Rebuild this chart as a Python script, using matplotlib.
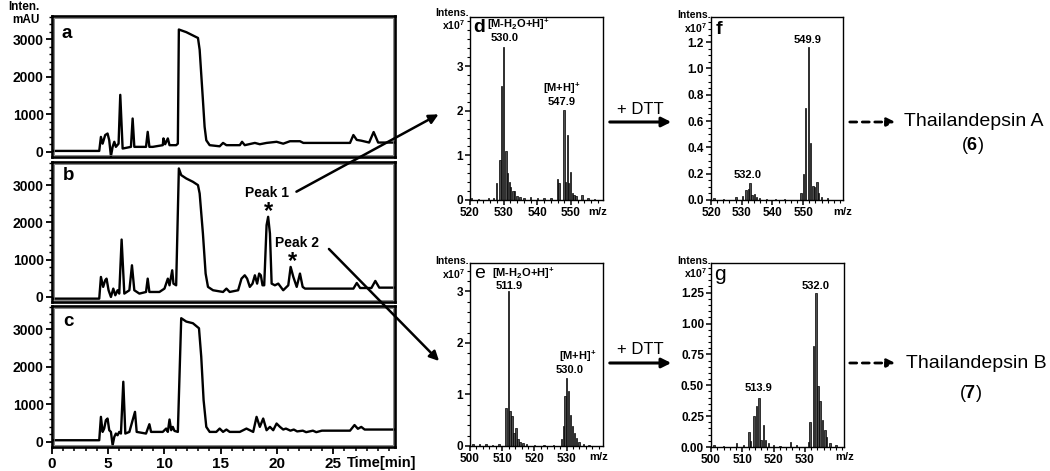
import matplotlib
matplotlib.use('Agg')
import matplotlib.pyplot as plt
from matplotlib.ticker import MultipleLocator, FormatStrFormatter
from matplotlib.patches import FancyArrowPatch, Rectangle

plt.rcParams['font.family'] = ['Liberation Sans', 'DejaVu Sans']
plt.rcParams['font.weight'] = 'bold'
plt.rcParams['mathtext.fontset'] = 'custom'
plt.rcParams['mathtext.rm'] = 'Liberation Sans'
plt.rcParams['mathtext.bf'] = 'Liberation Sans:bold'
plt.rcParams['mathtext.default'] = 'bf'

W, H = 1050, 471

# ---------------- HPLC chromatograms (time in min, intensity in mAU) ----------------
time_a = [0, 4.2, 4.35, 4.5, 4.73, 4.94, 5.09, 5.24, 5.39, 5.54, 5.68, 5.92, 6.07, 6.28, 7.02, 7.17,
          7.32, 8.36, 8.51, 8.66, 8.96, 9.85, 9.91, 10.06, 10.3, 10.45, 11.04, 11.19, 11.28, 11.94,
          12.98, 13.13, 13.42, 13.57, 13.72, 14.02, 14.91, 15.21, 15.51, 16.7, 16.9, 17.14, 18.04,
          18.48, 19.08, 19.97, 20.56, 21.16, 22.05, 22.35, 26.5, 26.8, 27.1, 27.5, 28.2, 28.6, 29.0, 30.5]
inten_a = [27, 27, 400, 220, 450, 490, 310, -115, 135, 270, 135, 220, 1520, 90, 135, 890,
           135, 135, 535, 135, 135, 180, 360, 205, 360, 180, 180, 220, 3260, 3190,
           3035, 2720, 1380, 670, 310, 180, 150, 240, 180, 180, 270, 180, 240,
           205, 240, 270, 220, 285, 285, 240, 240, 450, 320, 300, 250, 530, 250, 250]

time_b = [0, 4.2, 4.35, 4.55, 4.73, 4.85, 5.03, 5.24, 5.45, 5.63, 5.83, 5.98, 6.19, 6.43, 6.88, 7.11,
          7.32, 7.77, 8.36, 8.51, 8.66, 9.55, 10.0, 10.3, 10.45, 10.69, 10.8, 11.04, 11.28, 11.49,
          11.94, 12.53, 12.98, 13.13, 13.42, 13.66, 13.87, 14.32, 15.21, 15.51, 15.8, 16.55, 16.85,
          17.14, 17.35, 17.59, 17.83, 18.04, 18.24, 18.42, 18.57, 18.72, 18.87, 19.08, 19.22, 19.38,
          19.53, 19.82, 20.12, 20.56, 21.01, 21.22, 21.46, 21.76, 22.05, 22.29, 22.5, 26.8, 27.1,
          27.4, 28.4, 28.75, 29.1, 30.5]
inten_b = [-45, -45, 537, 270, 448, 492, 180, 0, 224, 45, 180, 90, 1540, 90, 180, 850,
           180, 90, 134, 492, 134, 134, 224, 492, 313, 716, 358, 313, 3447, 3268,
           3178, 3089, 3000, 2775, 1700, 627, 270, 180, 134, 224, 134, 180, 492,
           582, 492, 270, 358, 582, 358, 627, 582, 313, 313, 1925, 2150, 1700,
           358, 313, 358, 180, 313, 806, 537, 270, 627, 270, 224, 224, 375,
           240, 240, 430, 250, 250]

time_c = [0, 4.2, 4.35, 4.5, 4.64, 4.79, 4.94, 5.09, 5.24, 5.39, 5.54, 5.68, 5.83, 5.98, 6.13, 6.34,
          6.52, 6.88, 7.17, 7.38, 7.53, 8.36, 8.66, 8.81, 9.85, 10.15, 10.3, 10.45, 10.6, 10.74,
          10.89, 11.19, 11.49, 11.94, 12.53, 13.07, 13.27, 13.48, 13.72, 14.02, 14.61, 14.91, 15.21,
          15.51, 15.8, 16.7, 17.29, 17.89, 18.19, 18.48, 18.78, 19.08, 19.38, 19.67, 19.97, 20.27,
          20.56, 20.8, 21.2, 21.5, 21.8, 22.3, 22.6, 23.2, 23.5, 24.0, 26.5, 26.9, 27.2, 27.5, 27.8, 30.5]
inten_c = [45, 45, 668, 267, 356, 579, 623, 312, 267, -89, 134, 223, 178, 267, 223, 1603,
           223, 267, 579, 801, 267, 223, 472, 267, 267, 356, 267, 597, 312, 401,
           294, 267, 3295, 3205, 3161, 3027, 2271, 1113, 401, 267, 267, 356, 267,
           330, 267, 267, 356, 267, 668, 401, 623, 312, 401, 312, 490, 401,
           330, 356, 300, 330, 280, 300, 260, 300, 260, 300, 300, 450, 350, 400, 330, 330]

chrom_xticks = [0, 5, 10, 15, 20, 25]
chrom_yticks = [0, 1000, 2000, 3000]

# ---------------- MS spectra (m/z, intensity x10^7) ----------------
mz_d = [520.5, 522.5, 525.5, 527.0, 527.9, 528.9, 529.3, 530.0, 530.7, 531.2, 531.7, 532.1, 532.7,
        533.2, 533.9, 534.9, 536.0, 538.0, 540.0, 542.0, 544.0, 546.0, 546.5, 547.9, 548.4, 548.9,
        549.3, 549.9, 550.4, 550.9, 551.5, 553.3, 555.0, 557.0]
int_d = [0.04, 0.03, 0.04, 0.05, 0.37, 0.9, 2.55, 3.43, 1.1, 0.6, 0.4, 0.3, 0.2,
         0.2, 0.1, 0.07, 0.05, 0.07, 0.04, 0.05, 0.05, 0.48, 0.37, 2.02, 0.4, 1.45,
         0.37, 0.63, 0.15, 0.12, 0.08, 0.11, 0.04, 0.03]

mz_f = [521.0, 524.0, 528.2, 530.3, 531.4, 532.2, 532.7, 533.4, 534.1, 534.9, 535.8, 538.0, 541.0,
        544.0, 549.3, 550.1, 550.8, 551.8, 552.5, 553.2, 553.7, 554.5, 555.1, 555.9, 558.0]
int_f = [0.015, 0.01, 0.02, 0.03, 0.076, 0.08, 0.13, 0.04, 0.045, 0.02, 0.015, 0.01, 0.01,
         0.01, 0.05, 0.2, 0.7, 1.16, 0.43, 0.11, 0.1, 0.14, 0.05, 0.02, 0.015]

mz_e = [501.0, 503.0, 505.0, 507.0, 509.0, 511.2, 511.9, 512.4, 513.0, 513.6, 514.3, 514.9, 515.5,
        516.5, 517.6, 520.0, 523.0, 526.0, 528.4, 529.0, 529.5, 530.0, 530.6, 531.2, 531.8, 532.5,
        533.1, 533.9, 535.2, 537.0]
int_e = [0.04, 0.03, 0.03, 0.02, 0.03, 0.74, 3.0, 0.67, 0.58, 0.25, 0.35, 0.13, 0.08,
         0.05, 0.03, 0.02, 0.02, 0.02, 0.13, 0.38, 0.97, 1.32, 1.07, 0.6, 0.38, 0.25,
         0.15, 0.08, 0.04, 0.02]

mz_g = [501.0, 504.0, 508.2, 510.3, 512.1, 512.7, 513.7, 514.6, 515.3, 516.0, 516.7, 517.4, 518.3,
        519.9, 522.0, 525.4, 527.3, 531.1, 531.6, 532.7, 533.5, 534.2, 534.8, 535.6, 536.4, 536.9,
        538.0, 540.0]
int_g = [0.02, 0.01, 0.03, 0.02, 0.12, 0.05, 0.25, 0.33, 0.4, 0.06, 0.18, 0.06, 0.03,
         0.02, 0.01, 0.04, 0.02, 0.04, 0.2, 0.82, 1.25, 0.49, 0.37, 0.22, 0.14, 0.08,
         0.03, 0.02]

xticks_df = [520, 530, 540, 550]
xticks_eg = [500, 510, 520, 530]
yticks_de = [0, 1, 2, 3]
yticks_f = [0.0, 0.2, 0.4, 0.6, 0.8, 1.0, 1.2]
yticks_g = [0.0, 0.25, 0.5, 0.75, 1.0, 1.25]

fig = plt.figure(figsize=(W / 100, H / 100), dpi=100)


def add_ax(l, t, r, b):
    return fig.add_axes([l / W, 1 - b / H, (r - l) / W, (b - t) / H])


# ---------- chromatograms ----------
XMAX = 30.5
chrom_boxes = [(52, 16, 395, 157), (52, 162, 395, 302), (52, 306, 395, 447)]
chrom_data = [(time_a, inten_a), (time_b, inten_b), (time_c, inten_c)]
for i, (box, (t, v)) in enumerate(zip(chrom_boxes, chrom_data)):
    ax = add_ax(*box)
    ax.plot(t, v, color='black', lw=1.7, solid_joinstyle='round')
    ax.set_xlim(0, XMAX)
    ax.set_ylim(-135, 3620)
    ax.set_yticks(chrom_yticks)
    ax.yaxis.set_minor_locator(MultipleLocator(200))
    ax.tick_params(axis='y', which='major', direction='out', length=4, width=1.3, labelsize=10, pad=2)
    ax.tick_params(axis='y', which='minor', direction='out', length=2.5, width=1)
    for sp in ax.spines.values():
        sp.set_linewidth(1.9)
    ax.add_patch(Rectangle((0.006, 0.012), 0.988, 0.976, transform=ax.transAxes, fill=False,
                           lw=0.6, edgecolor='0.45', zorder=3))
    if i < 2:
        ax.tick_params(axis='x', which='both', bottom=False, labelbottom=False)
    else:
        ax.set_xticks(chrom_xticks)
        ax.xaxis.set_minor_locator(MultipleLocator(1))
        ax.tick_params(axis='x', which='major', direction='out', length=5, width=1.3, labelsize=11, pad=2)
        ax.tick_params(axis='x', which='minor', direction='out', length=3, width=1.1)


# ---------- mass spectra ----------
def spectrum(box, mz, inten, xlim, ylim, xticks, yticks, yminor, yfmt):
    ax = add_ax(*box)
    ax.bar(mz, inten, width=0.45, color='0.3', edgecolor='black', linewidth=0.5)
    ax.set_xlim(*xlim)
    ax.set_ylim(*ylim)
    ax.set_xticks(xticks)
    ax.set_yticks(yticks)
    ax.xaxis.set_minor_locator(MultipleLocator(2))
    ax.yaxis.set_minor_locator(MultipleLocator(yminor))
    ax.yaxis.set_major_formatter(FormatStrFormatter(yfmt))
    ax.tick_params(which='major', direction='out', length=3.5, width=1.1, labelsize=8.5, pad=1.5)
    ax.tick_params(which='minor', direction='out', length=2, width=0.8)
    for sp in ax.spines.values():
        sp.set_linewidth(1.0)
    return ax


spectrum((470, 17, 603, 200), mz_d, int_d, (520, 559.5), (0, 4.1), xticks_df, yticks_de, 0.2, '%d')
spectrum((711, 17, 843, 200), mz_f, int_f, (520, 563), (0, 1.39), xticks_df, yticks_f, 0.05, '%.1f')
spectrum((470, 263, 603, 446), mz_e, int_e, (500, 541.3), (0, 3.55), xticks_eg, yticks_de, 0.2, '%d')
spectrum((711, 263, 844, 447), mz_g, int_g, (500, 542.5), (0, 1.49), xticks_eg, yticks_g, 0.05, '%.2f')

# ---------- overlay for labels and arrows (pixel coordinates) ----------
ov = fig.add_axes([0, 0, 1, 1], zorder=10)
ov.set_xlim(0, W)
ov.set_ylim(H, 0)
ov.axis('off')
ov.patch.set_alpha(0)


def txt(x, y, s, size, ha='center', weight='bold', va='center'):
    ov.text(x, y, s, fontsize=size, ha=ha, va=va, fontweight=weight)


# chromatogram labels
txt(24, 7, 'Inten.', 8.5)
txt(26, 20, 'mAU', 8.5)
txt(67, 33, 'a', 13.5)
txt(69, 176, 'b', 13.5)
txt(68, 321, 'c', 13.5)
txt(347, 463, 'Time[min]', 10.5, ha='left')
txt(267, 193, 'Peak 1', 10)
txt(268, 212, '*', 17)
txt(297, 243, 'Peak 2', 10)
txt(292, 262, '*', 17)

# spectra labels
for (xr, y1, y2) in [(469, 13, 25), (711, 15, 28), (469, 261, 274), (711, 261, 273)]:
    txt(xr, y1, 'Intens.', 7.5, ha='right')
    txt(xr - 4, y2, r'x10$^{\mathbf{7}}$', 7.5, ha='right')

txt(479, 28, 'd', 14)
txt(719, 29, 'f', 14)
txt(480, 273, 'e', 14, weight='normal')
txt(720, 275, 'g', 15, weight='normal')

txt(518, 24, r'[M-H$_{\mathbf{2}}$O+H]$^{\mathbf{+}}$', 8)
txt(505, 38, '530.0', 8)
txt(562, 88, r'[M+H]$^{\mathbf{+}}$', 8)
txt(562, 102, '547.9', 8)
txt(808, 40, '549.9', 8)
txt(748, 175, '532.0', 8)

txt(523, 273, r'[M-H$_{\mathbf{2}}$O+H]$^{\mathbf{+}}$', 8)
txt(509, 286, '511.9', 8)
txt(578, 356, r'[M+H]$^{\mathbf{+}}$', 8)
txt(570, 370, '530.0', 8)
txt(816, 286, '532.0', 8)
txt(758, 388, '513.9', 8)

txt(598, 212, 'm/z', 8)
txt(843, 212, 'm/z', 8)
txt(599, 457, 'm/z', 8)
txt(845, 457, 'm/z', 8)

# DTT arrows and result arrows
for y in (122, 363):
    ov.add_patch(FancyArrowPatch((607, y), (674, y), arrowstyle='-|>', mutation_scale=14,
                                 lw=2.2, color='black'))
    txt(640, y - 13, '+ DTT', 12, weight='normal')
    ov.add_patch(FancyArrowPatch((847, y), (898, y), arrowstyle='-|>', mutation_scale=12,
                                 lw=2.0, color='black', linestyle=(0, (2.5, 2))))

txt(904, 122, 'Thailandepsin A', 14, ha='left', weight='normal')
txt(972, 146, r'($\mathbf{6}$)', 13, weight='normal')
txt(906, 364, 'Thailandepsin B', 14, ha='left', weight='normal')
txt(970, 393, r'($\mathbf{7}$)', 13, weight='normal')

# peak arrows
ov.add_patch(FancyArrowPatch((294, 193), (441, 113), arrowstyle='-|>', mutation_scale=14,
                             lw=1.8, color='black'))
ov.add_patch(FancyArrowPatch((327, 247), (441, 363), arrowstyle='-|>', mutation_scale=14,
                             lw=1.8, color='black'))

fig.savefig('out.png', dpi=100)
